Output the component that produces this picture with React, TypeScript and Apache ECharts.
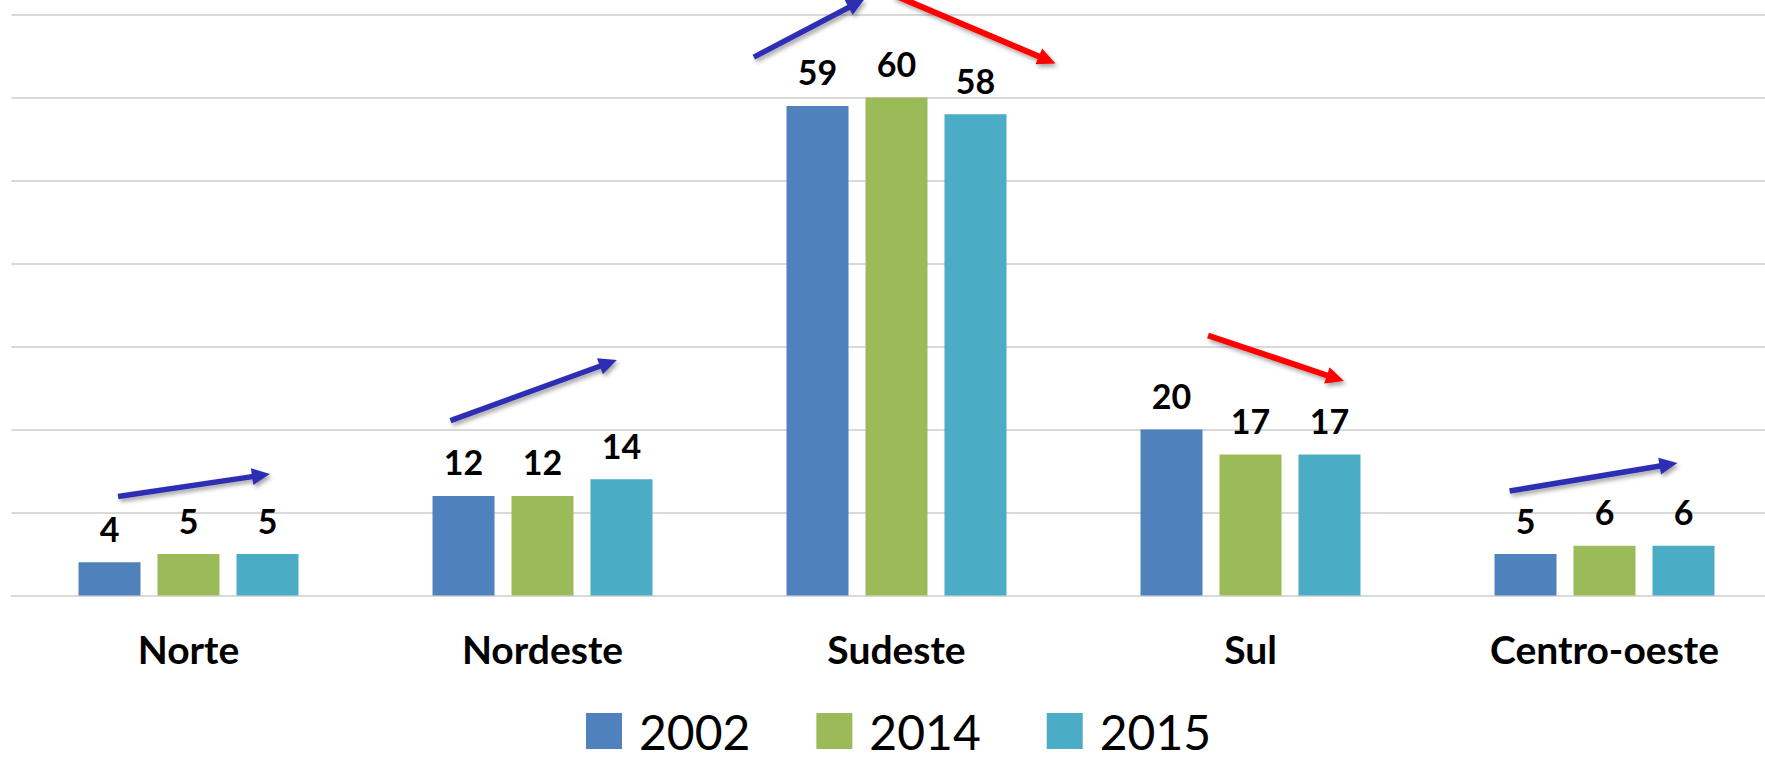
import React, { useEffect, useRef } from 'react';
import * as echarts from 'echarts';

const categories = ['Norte', 'Nordeste', 'Sudeste', 'Sul', 'Centro-oeste'];
const years = ['2002', '2014', '2015'];
const values2002 = [4, 12, 59, 20, 5];
const values2014 = [5, 12, 60, 17, 6];
const values2015 = [5, 14, 58, 17, 6];
const barColors = ['#4F81BD', '#9BBB59', '#4BACC6'];
const yTicks = [0, 70, 10]; // min, max, interval

// Trend arrows (annotations): category, start/end offset as fraction of the category band, start/end value
const arrowCategory = [0, 1, 2, 2, 3, 4];
const arrowStartOffset = [-0.199, -0.26, -0.403, -0.008, -0.12, -0.268];
const arrowEndOffset = [0.23, 0.21, -0.09, 0.449, 0.264, 0.206];
const arrowStartValue = [11.93, 21.08, 64.88, 72.35, 31.33, 12.59];
const arrowEndValue = [14.64, 28.37, 71.87, 64.12, 25.84, 15.96];
const arrowColor = ['#2F2FB4', '#2F2FB4', '#2F2FB4', '#FF0000', '#FF0000', '#2F2FB4'];

export default function App() {
  const ref = useRef<HTMLDivElement>(null);
  useEffect(() => {
    document.body.style.margin = '0';
    const chart = echarts.init(ref.current!, null, { renderer: 'svg' });
    const seriesData = [values2002, values2014, values2015];
    chart.setOption({
      animation: false,
      textStyle: { fontFamily: 'Lato' },
      grid: { left: 11.5, right: -16.5, top: 14.6, bottom: 164.5, outerBoundsMode: 'none', containLabel: false },
      legend: {
        left: 586,
        top: 707,
        padding: 0,
        itemWidth: 36,
        itemHeight: 36,
        itemGap: 66,
        icon: 'rect',
        data: years,
        textStyle: { fontFamily: 'Lato', fontSize: 48, color: '#000', padding: [0, 0, 12, 12] },
      },
      xAxis: {
        type: 'category',
        data: categories,
        axisTick: { show: false },
        axisLine: { lineStyle: { color: '#D9D9D9', width: 2 } },
        axisLabel: { fontFamily: 'Lato', fontSize: 39, fontWeight: 'bold', color: '#000', margin: 34 },
      },
      yAxis: {
        type: 'value',
        min: yTicks[0],
        max: yTicks[1],
        interval: yTicks[2],
        axisLabel: { show: false },
        axisLine: { show: false },
        axisTick: { show: false },
        splitLine: { lineStyle: { color: '#D9D9D9', width: 2 } },
      },
      series: years.map((y, i) => ({
        name: y,
        type: 'bar',
        data: seriesData[i],
        barWidth: 62,
        barGap: '27.4%',
        itemStyle: { color: barColors[i] },
        label: {
          show: true,
          position: 'top',
          distance: 17,
          fontFamily: 'Lato',
          fontSize: 34,
          fontWeight: 'bold',
          color: '#000',
        },
      })),
    });

    const c0 = chart.convertToPixel({ xAxisIndex: 0, yAxisIndex: 0 }, [0, 0]) as number[];
    const c1 = chart.convertToPixel({ xAxisIndex: 0, yAxisIndex: 0 }, [1, 0]) as number[];
    const band = c1[0] - c0[0];
    const elements: any[] = [];
    const shadow = { shadowBlur: 4, shadowOffsetX: 2, shadowOffsetY: 3, shadowColor: 'rgba(0,0,0,0.35)' };
    arrowCategory.forEach((cat, k) => {
      const s = chart.convertToPixel({ xAxisIndex: 0, yAxisIndex: 0 }, [cat, arrowStartValue[k]]) as number[];
      const e = chart.convertToPixel({ xAxisIndex: 0, yAxisIndex: 0 }, [cat, arrowEndValue[k]]) as number[];
      const x1 = s[0] + arrowStartOffset[k] * band;
      const y1 = s[1];
      const x2 = e[0] + arrowEndOffset[k] * band;
      const y2 = e[1];
      const dx = x2 - x1;
      const dy = y2 - y1;
      const len = Math.sqrt(dx * dx + dy * dy);
      const ux = dx / len;
      const uy = dy / len;
      const nx = -uy;
      const ny = ux;
      const headLen = 18;
      const headHalf = 8.5;
      const bx = x2 - ux * headLen;
      const by = y2 - uy * headLen;
      const color = arrowColor[k];
      const lw = color === '#FF0000' ? 6 : 5.5;
      elements.push({
        type: 'line',
        shape: { x1, y1, x2: bx + ux * 2, y2: by + uy * 2 },
        style: { stroke: color, lineWidth: lw, ...shadow },
        silent: true,
        z: 10,
      });
      elements.push({
        type: 'polygon',
        shape: { points: [[x2, y2], [bx + nx * headHalf, by + ny * headHalf], [bx - nx * headHalf, by - ny * headHalf]] },
        style: { fill: color, ...shadow },
        silent: true,
        z: 10,
      });
    });
    chart.setOption({ graphic: elements });

    return () => chart.dispose();
  }, []);
  return <div ref={ref} style={{ width: 1765, height: 760 }} />;
}
